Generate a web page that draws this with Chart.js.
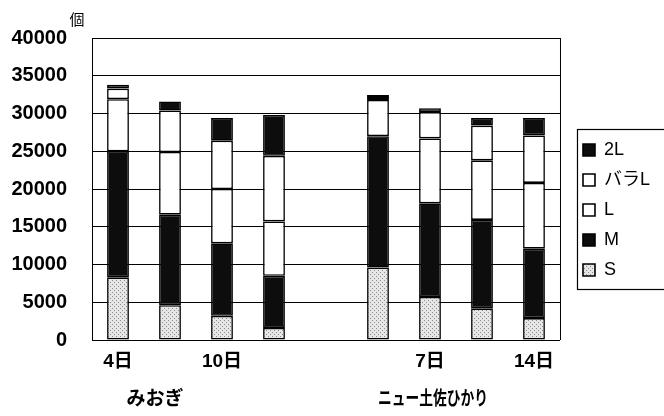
<!DOCTYPE html>
<html>
<head>
<meta charset="utf-8">
<script src="https://cdn.jsdelivr.net/npm/chart.js@4.4.0/dist/chart.umd.min.js"></script>
<style>
  html, body { margin: 0; padding: 0; background: #fff; }
</style>
</head>
<body>
<canvas id="sizeChart" width="664" height="416"></canvas>
<script>
// categories: two varieties, four harvest days each, blank slot between
const dayLabels = ['4日', '7日', '10日', '14日', '', '4日', '7日', '10日', '14日'];
const groupNames = ['みおぎ', 'ニュー土佐ひかり'];
const yMax = 40000;
const yStep = 5000;

// counts per size grade (bottom to top of each stack)
const sValues = [8300, 4600, 3200, 1600, null, 9600, 5700, 4200, 2900];
const mValues = [16700, 12000, 9600, 6900, null, 17400, 12400, 11700, 9200];
const lValues = [6900, 8300, 7200, 7200, null, 4800, 8600, 7900, 8700];
const baraLValues = [1400, 5500, 6400, 8700, null, 400, 3500, 4600, 6300];
const twoLValues = [500, 1200, 3000, 5400, null, 250, 500, 1000, 2300];

const FONT = "'Liberation Sans', 'Noto Sans CJK JP', sans-serif";
const canvas = document.getElementById('sizeChart');
const ctx = canvas.getContext('2d');

// light gray stipple like the printed S bars
const dotCanvas = document.createElement('canvas');
dotCanvas.width = 4;
dotCanvas.height = 4;
const dg = dotCanvas.getContext('2d');
dg.fillStyle = '#e6e6e6';
dg.fillRect(0, 0, 4, 4);
dg.fillStyle = '#8c8c8c';
dg.fillRect(0, 0, 1, 1);
dg.fillRect(2, 2, 1, 1);
const dotFill = ctx.createPattern(dotCanvas, 'repeat');

const barStyle = {
  borderColor: '#000',
  borderWidth: 1.6,
  borderSkipped: false,
  barPercentage: 0.42,
  categoryPercentage: 1,
};

// extra text + frame drawn around the plot
const extrasPlugin = {
  id: 'extras',
  beforeDatasetsDraw(chart) {
    const { ctx, chartArea } = chart;
    ctx.save();
    ctx.strokeStyle = '#000';
    ctx.lineWidth = 1;
    ctx.beginPath();
    ctx.moveTo(chartArea.right + 0.5, chartArea.top);
    ctx.lineTo(chartArea.right + 0.5, chartArea.bottom);
    ctx.stroke();
    ctx.restore();
  },
  afterDraw(chart) {
    const { ctx } = chart;
    const x = chart.scales.x;
    ctx.save();
    ctx.fillStyle = '#000';
    ctx.textAlign = 'center';
    ctx.textBaseline = 'middle';

    // unit label
    ctx.font = `15px ${FONT}`;
    ctx.fillText('個', 77, 21);

    // variety names under the day labels
    ctx.font = `bold 19px ${FONT}`;
    ctx.fillText(groupNames[0], x.getPixelForValue(0.71), 400);
    ctx.fillText(groupNames[1], x.getPixelForValue(6.06), 400, 110);

    // frame round the legend
    const boxes = chart.legend.legendHitBoxes;
    if (boxes && boxes.length) {
      const top = Math.min(...boxes.map(b => b.top));
      const bottom = Math.max(...boxes.map(b => b.top + b.height));
      const left = Math.min(...boxes.map(b => b.left));
      ctx.strokeStyle = '#000';
      ctx.lineWidth = 1.2;
      ctx.strokeRect(left - 5.5, top - 11.5, 120, bottom - top + 22);
    }
    ctx.restore();
  },
};

const config = {
  type: 'bar',
  data: {
    labels: dayLabels,
    datasets: [
      { label: 'S', data: sValues, backgroundColor: dotFill, ...barStyle },
      { label: 'M', data: mValues, backgroundColor: '#0d0d0d', ...barStyle },
      { label: 'L', data: lValues, backgroundColor: '#fff', ...barStyle },
      { label: 'バラL', data: baraLValues, backgroundColor: '#fff', ...barStyle },
      { label: '2L', data: twoLValues, backgroundColor: '#0d0d0d', ...barStyle },
    ],
  },
  options: {
    responsive: false,
    animation: false,
    layout: { padding: { top: 38, left: 0, right: 4, bottom: 34 } },
    plugins: {
      tooltip: { enabled: false },
      legend: {
        position: 'right',
        reverse: true,
        labels: {
          color: '#000',
          boxWidth: 12,
          boxHeight: 12,
          padding: 12,
          font: { family: FONT, size: 18 },
        },
      },
    },
    scales: {
      x: {
        stacked: true,
        grid: { display: false, drawTicks: false },
        border: { color: '#000', width: 1 },
        afterFit: (scale) => { scale.height = 42; },
        ticks: {
          autoSkip: false,
          maxRotation: 0,
          padding: 10,
          color: '#000',
          font: { family: FONT, size: 19, weight: 'bold' },
          callback: (val, i) => (i % 2 === 0 ? dayLabels[i] : ''),
        },
      },
      y: {
        stacked: true,
        min: 0,
        max: yMax,
        grid: { color: '#000', lineWidth: 1, drawTicks: false },
        border: { color: '#000', width: 1 },
        afterFit: (scale) => { scale.width = 92; },
        ticks: {
          stepSize: yStep,
          padding: 25,
          color: '#000',
          font: { family: FONT, size: 20, weight: 'bold' },
          callback: (v) => String(v),
        },
      },
      // empty spacer between plot and legend
      gap: {
        position: 'right',
        display: true,
        grid: { display: false, drawTicks: false },
        border: { display: false },
        ticks: { display: false },
        afterFit: (scale) => { scale.width = 11; },
      },
    },
  },
  plugins: [extrasPlugin],
};

new Chart(canvas, config);
</script>
</body>
</html>
